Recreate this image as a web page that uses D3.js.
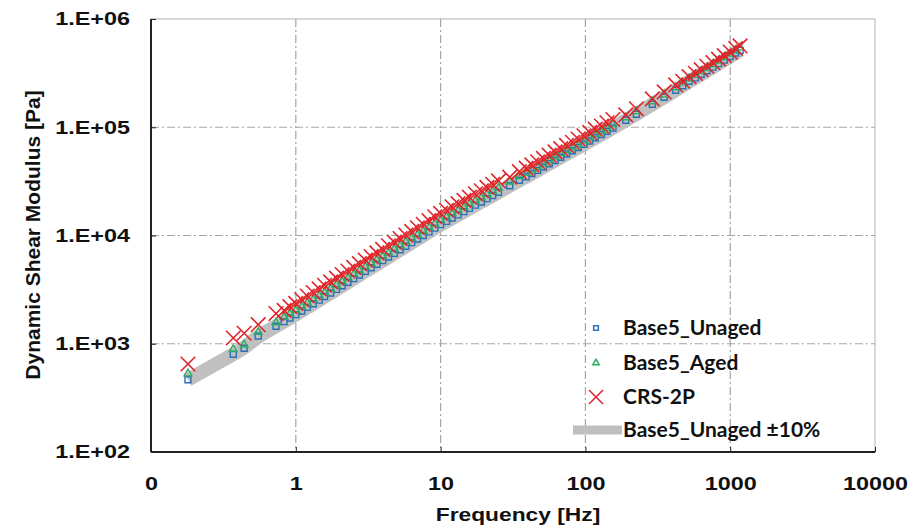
<!DOCTYPE html>
<html>
    <head>
        <title>Dynamic Shear Modulus</title>
        <script src="https://d3js.org/d3.v7.min.js"></script>
        <style>
            body { margin: 0; background: #fff; }
            .grid line { stroke: #a6a6a6; stroke-width: 1.2px; stroke-dasharray: 8, 3, 2, 3; }
            .axis path, .axis line { stroke: #222; }
            .axis path { stroke-width: 2px; }
            .axis text { font-family: 'Liberation Sans', Arial, sans-serif; font-weight: bold; font-size: 18px; fill: #111; }
            .title { font-family: 'Liberation Sans', Arial, sans-serif; font-weight: bold; fill: #111; }
            .legend text { font-family: Lato, 'Liberation Sans', sans-serif; font-weight: bold; font-size: 20px; fill: #111; }
        </style>
    </head>
    <body>
        <div id="chart"></div>
        <script>
            // frequency [Hz], shared by the three materials
            const freq = [0.18, 0.37, 0.44, 0.55, 0.73,
                0.83, 0.91, 1.0, 1.1, 1.2, 1.32, 1.45, 1.58, 1.74, 1.91, 2.09, 2.29, 2.51, 2.75, 3.02, 3.31, 3.63, 3.98, 4.37, 4.79,
                5.25, 5.75, 6.31, 6.92, 7.59, 8.32, 9.12, 10.0, 11.0, 12.0, 13.2, 14.5, 15.8, 17.4, 19.1, 20.9, 22.9, 25.1,
                30, 35,
                39, 42.7, 46.8, 51.3, 56.2, 61.7, 67.6, 74.1, 81.3, 89.1, 97.7, 107, 117, 129, 141, 155,
                190, 225, 290, 350, 420, 470, 520, 575, 630, 690, 760, 830, 910, 1000, 1090, 1170];
            // dynamic shear modulus [Pa]
            const base5Unaged = [465, 800, 910, 1180, 1450,
                1600, 1730, 1860, 2010, 2170, 2340, 2530, 2730, 2940, 3180, 3430, 3700, 4000, 4320, 4660, 5030, 5430, 5860, 6330, 6830,
                7380, 7960, 8590, 9270, 10000, 10800, 11700, 12600, 13500, 14500, 15500, 16600, 17800, 19100, 20400, 21900, 23400, 25100,
                28800, 32400,
                34900, 37400, 40000, 42900, 46000, 49300, 52800, 56600, 60600, 64900, 69600, 74600, 79900, 85600, 91700, 98300,
                116000, 132000, 163000, 189000, 220000, 242000, 266000, 286000, 309000, 333000, 359000, 387000, 417000, 450000, 485000, 513000];
            const base5Aged = [530, 890, 980, 1280, 1570,
                1760, 1900, 2050, 2210, 2390, 2570, 2780, 3000, 3230, 3500, 3770, 4070, 4400, 4750, 5130, 5530, 5970, 6450, 6960, 7510,
                8120, 8760, 9450, 10200, 11000, 11900, 12900, 13900, 14900, 16000, 17100, 18300, 19600, 21000, 22400, 24100, 25700, 27600,
                31400, 35300,
                37700, 40400, 43200, 46300, 49700, 53200, 57000, 61100, 65400, 70100, 75200, 80600, 86300, 92400, 99000, 106200,
                123000, 140000, 173000, 200000, 233000, 257000, 282000, 303000, 328000, 353000, 381000, 410000, 442000, 477000, 514000, 544000];
            const crs2P = [650, 1130, 1250, 1500, 1900,
                2030, 2200, 2360, 2550, 2760, 2970, 3210, 3470, 3730, 4040, 4360, 4700, 5080, 5490, 5920, 6390, 6900, 7440, 8040, 8670,
                9370, 10100, 10900, 11800, 12700, 13700, 14900, 16000, 17100, 18400, 19700, 21100, 22600, 24300, 25900, 27800, 29700, 31900,
                34600, 38900,
                41900, 44900, 48000, 51500, 55200, 59200, 63400, 67900, 72700, 77900, 83500, 89500, 95900, 102700, 110000, 118000,
                130000, 148000, 183000, 212000, 246000, 266000, 293000, 315000, 340000, 366000, 395000, 426000, 459000, 495000, 534000, 564000];

            const xTicks = [0.1, 1, 10, 100, 1000, 10000];
            const xTickLabels = ['0', '1', '10', '100', '1000', '10000'];
            const yTicks = [1e2, 1e3, 1e4, 1e5, 1e6];
            const yTickLabels = ['1.E+02', '1.E+03', '1.E+04', '1.E+05', '1.E+06'];
            const seriesNames = ['Base5_Unaged', 'Base5_Aged', 'CRS-2P', 'Base5_Unaged \u00b110%'];

            const svgWidth = 924,
                svgHeight = 530;
            const margin = { top: 19, left: 151, right: 49, bottom: 78 };
            const width = svgWidth - margin.left - margin.right;
            const height = svgHeight - margin.top - margin.bottom;
            const sx = 1.3; // the picture is stretched sideways

            const svg = d3.select('#chart').append('svg').attr('width', svgWidth).attr('height', svgHeight);
            const g = svg.append('g').attr('transform', 'translate(' + margin.left + ',' + margin.top + ')');

            const x = d3.scaleLog().domain([0.1, 10000]).range([0, width]);
            const y = d3.scaleLog().domain([100, 1e6]).range([height, 0]);

            // frame
            g.append('rect').attr('width', width).attr('height', height)
                .attr('fill', 'none').attr('stroke', '#cccccc').attr('stroke-width', 1.5);

            // grid
            const grid = g.append('g').attr('class', 'grid');
            grid.selectAll('.vx').data(xTicks.slice(1, -1)).enter().append('line')
                .attr('x1', (d) => x(d)).attr('x2', (d) => x(d)).attr('y1', 0).attr('y2', height);
            grid.selectAll('.hy').data(yTicks.slice(1, -1)).enter().append('line')
                .attr('x1', 0).attr('x2', width).attr('y1', (d) => y(d)).attr('y2', (d) => y(d));

            // axes
            const xAxis = g.append('g').attr('class', 'axis').attr('transform', 'translate(0,' + height + ')')
                .call(d3.axisBottom(x).tickValues(xTicks).tickFormat((d, i) => xTickLabels[i])
                    .tickSizeInner(-5).tickSizeOuter(0).tickPadding(25));
            xAxis.selectAll('text').attr('transform', 'scale(' + sx + ',1)');

            const yAxis = g.append('g').attr('class', 'axis')
                .call(d3.axisLeft(y).tickValues(yTicks).tickFormat((d, i) => yTickLabels[i])
                    .tickSizeInner(-5).tickSizeOuter(0));
            yAxis.selectAll('text').attr('x', -21 / sx).attr('transform', 'scale(' + sx + ',1)');
            xAxis.select('.domain').attr('d', 'M0,0H' + width);
            yAxis.select('.domain').attr('d', 'M0,0V' + height);

            // titles
            svg.append('text').attr('class', 'title')
                .attr('transform', 'translate(518,521) scale(1.2,1)')
                .attr('text-anchor', 'middle').style('font-size', '19px')
                .text('Frequency  [Hz]');
            svg.append('text').attr('class', 'title')
                .attr('transform', 'translate(40,235) rotate(-90)')
                .attr('text-anchor', 'middle').style('font-size', '21px')
                .text('Dynamic Shear Modulus [Pa]');

            const pts = (vals) => vals.map((v, i) => [freq[i], v]).filter((d) => d[0] !== undefined);

            // ±10% band of Base5_Unaged
            const band = d3.line().x((d) => x(d[0])).y((d) => y(d[1])).curve(d3.curveBasis);
            g.append('path').datum(pts(base5Unaged))
                .attr('d', band).attr('fill', 'none')
                .attr('stroke', '#c0c0c0').attr('stroke-width', 14).attr('stroke-linejoin', 'round');

            const colors = ['#2a72b8', '#2fae62', '#e0242a'];
            const shapes = [d3.symbol(d3.symbolSquare, 36), d3.symbol(d3.symbolTriangle, 26), d3.symbol(d3.symbolTimes, 140)];
            const widths = [1.4, 1.4, 1.6];

            [base5Unaged, base5Aged, crs2P].forEach(function (vals, k) {
                g.append('g').selectAll('path').data(pts(vals)).enter().append('path')
                    .attr('transform', (d) => 'translate(' + x(d[0]) + ',' + y(d[1]) + ')')
                    .attr('d', shapes[k]).attr('fill', 'none')
                    .attr('stroke', colors[k]).attr('stroke-width', widths[k]);
            });

            // legend
            const legend = svg.append('g').attr('class', 'legend');
            const rowsY = [328, 363, 397, 430];
            const legShapes = [d3.symbol(d3.symbolSquare, 22), d3.symbol(d3.symbolTriangle, 18), d3.symbol(d3.symbolTimes, 130)];
            seriesNames.forEach(function (name, i) {
                if (i < 3) {
                    legend.append('path').attr('transform', 'translate(596,' + rowsY[i] + ')')
                        .attr('d', legShapes[i]).attr('fill', 'none')
                        .attr('stroke', colors[i]).attr('stroke-width', 1.5);
                } else {
                    legend.append('line').attr('x1', 573).attr('x2', 622)
                        .attr('y1', rowsY[i]).attr('y2', rowsY[i])
                        .attr('stroke', '#c0c0c0').attr('stroke-width', 9);
                }
                legend.append('text').attr('transform', 'translate(623,' + (rowsY[i] + 7) + ') scale(1.05,1)').text(name);
            });
        </script>
    </body>
</html>
